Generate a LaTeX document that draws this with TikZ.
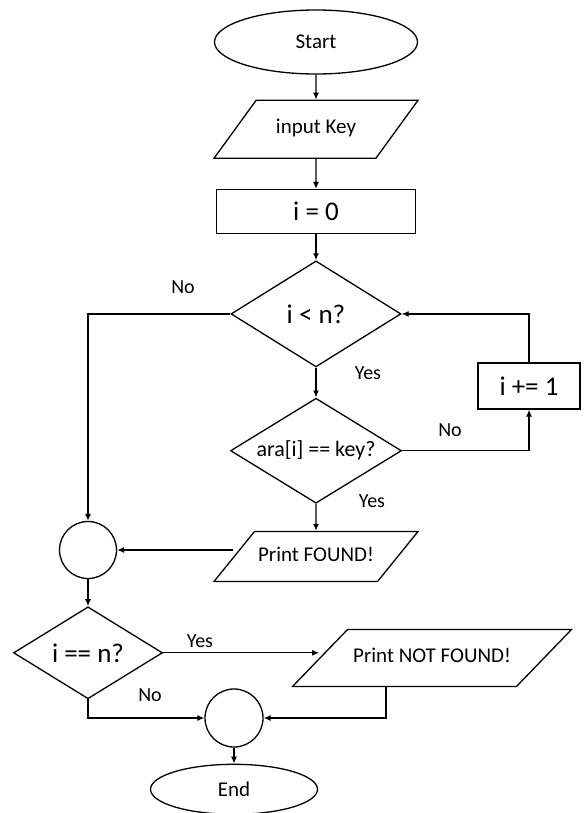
\documentclass[tikz,border=0pt]{standalone}
\usepackage{fontspec}
\setmainfont{Carlito}
\usetikzlibrary{arrows.meta,positioning,shapes.geometric}

\begin{document}
\begin{tikzpicture}[
  x=1pt,y=-1pt,
  line width=1.3pt,
  node distance=26pt,
  term/.style={draw,ellipse,inner sep=0pt,font=\fontsize{21}{24}\selectfont},
  io/.style={draw,trapezium,trapezium left angle=54,trapezium right angle=126,trapezium stretches body,
    inner xsep=0pt,text height=14pt,text depth=5pt,font=\fontsize{21}{24}\selectfont},
  proc/.style={draw,rectangle,inner sep=0pt,font=\fontsize{27}{30}\selectfont},
  decide/.style={draw,diamond,aspect=1.6,inner sep=0pt,font=\fontsize{27}{30}\selectfont},
  merge/.style={draw,circle,inner sep=0pt,minimum size=57pt},
  arr/.style={-{Latex[length=7pt,width=6pt]}},
  lbl/.style={font=\fontsize{20}{24}\selectfont}
]
\useasboundingbox (0,0) rectangle (588,813);
% main column
\node[term,minimum width=203pt,minimum height=64pt] (start) at (316,42) {Start};
\node[io,below=25pt of start,minimum width=204pt,inner ysep=19.5pt] (key) {input Key};
\node[proc,below=30pt of key,minimum width=199pt,minimum height=44pt] (init) {i = 0};
\node[decide,below=26pt of init,minimum width=170pt,minimum height=106pt] (d1) {i < n?};
\node[decide,below=30pt of d1,minimum width=171pt,minimum height=105pt,font=\fontsize{22}{26}\selectfont] (d2) {ara[i] == key?};
\node[io,below=27pt of d2,minimum width=204pt,inner ysep=15.5pt,trapezium left angle=51,trapezium right angle=129] (found) {Print FOUND!};
% side nodes
\node[proc,minimum width=102pt,minimum height=46pt] (inc) at (529,386) {i += 1};
\node[merge] (j1) at (88,550) {};
\node[decide,below=27pt of j1,minimum width=149pt,minimum height=92pt] (d3) {i == n?};
\node[io,minimum width=279pt,inner ysep=19pt,trapezium left angle=46,trapezium right angle=134] (notfound) at (432,658) {Print NOT FOUND!};
\node[merge,minimum size=58pt] (j2) at (234,718) {};
\node[term,below=16pt of j2,minimum width=167pt,minimum height=50pt] (end) {End};
% labels
\node[lbl] (no1) at (183,287) {No};
\node[lbl] (yes1) at (368,373) {Yes};
\node[lbl] (no2) at (450,430) {No};
\node[lbl] (yes2) at (372,501) {Yes};
\node[lbl] (yes3) at (200,641) {Yes};
\node[lbl] (no3) at (150,695) {No};
% connectors
\draw[arr] (start) -- (key);
\draw[arr] (key) -- (init);
\draw[arr] (init) -- (d1);
\draw[arr] (d1) -- (d2);
\draw[arr] (d2) -- (found);
\draw[arr] (d2.east) -| (inc.south);
\draw[arr] (inc.north) |- (d1.east);
\draw[arr] (d1.west) -| (j1.north);
\draw[arr] (found.west |- j1) -- (j1.east);
\draw[arr] (j1) -- (d3);
\draw[arr] (d3.east) -- (notfound.west |- d3.east);
\draw[arr] (d3.south) |- (j2.west);
\draw[arr] ([xshift=-46pt]notfound.south) |- (j2.east);
\draw[arr] (j2) -- (end);
\end{tikzpicture}
\end{document}
